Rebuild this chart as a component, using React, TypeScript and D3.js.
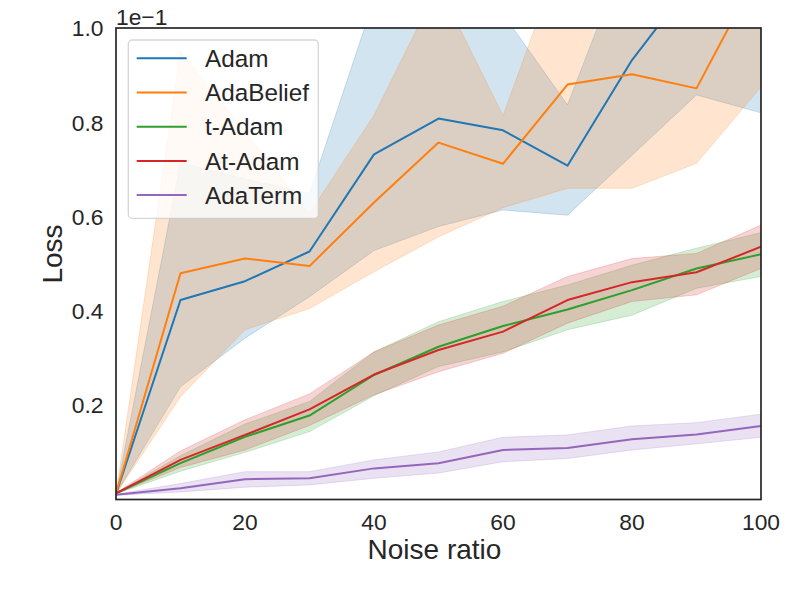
import React from "react";
import * as d3 from "d3";

// noise ratio (x) and loss values, in units of 1e-1
const noise = [0, 10, 20, 30, 40, 50, 60, 70, 80, 90, 100];

const adamMean = [0.012, 0.423, 0.463, 0.526, 0.732, 0.808, 0.783, 0.708, 0.932, 1.11, 1.2];
const adamLow = [0.012, 0.239, 0.342, 0.43, 0.528, 0.579, 0.614, 0.603, 0.73, 0.858, 0.82];
const adamHigh = [0.012, 0.714, 0.68, 0.649, 1.06, 1.2, 1.03, 0.837, 1.19, 1.4, 1.5];

const beliefMean = [0.012, 0.48, 0.511, 0.495, 0.63, 0.757, 0.712, 0.88, 0.902, 0.872, 1.13];
const beliefLow = [0.012, 0.218, 0.36, 0.405, 0.483, 0.557, 0.619, 0.66, 0.66, 0.713, 0.875];
const beliefHigh = [0.012, 0.95, 0.78, 0.607, 0.815, 1.09, 0.814, 1.19, 1.3, 1.3, 1.4];

const tAdamMean = [0.013, 0.077, 0.133, 0.178, 0.264, 0.324, 0.368, 0.403, 0.444, 0.49, 0.52];
const tAdamLow = [0.012, 0.06, 0.1, 0.144, 0.22, 0.282, 0.313, 0.36, 0.391, 0.448, 0.473];
const tAdamHigh = [0.014, 0.093, 0.16, 0.208, 0.313, 0.377, 0.42, 0.455, 0.497, 0.533, 0.566];

const atAdamMean = [0.013, 0.084, 0.137, 0.191, 0.265, 0.317, 0.356, 0.423, 0.461, 0.482, 0.536];
const atAdamLow = [0.012, 0.068, 0.105, 0.157, 0.222, 0.271, 0.31, 0.374, 0.42, 0.434, 0.49];
const atAdamHigh = [0.014, 0.103, 0.169, 0.224, 0.313, 0.37, 0.41, 0.473, 0.511, 0.522, 0.582];

const termMean = [0.01, 0.024, 0.043, 0.045, 0.066, 0.077, 0.105, 0.109, 0.128, 0.138, 0.156];
const termLow = [0.009, 0.016, 0.026, 0.031, 0.045, 0.056, 0.08, 0.087, 0.105, 0.118, 0.132];
const termHigh = [0.011, 0.034, 0.059, 0.059, 0.084, 0.101, 0.132, 0.137, 0.156, 0.163, 0.181];

const xTicks = [0, 20, 40, 60, 80, 100];
const yTicks = [0.2, 0.4, 0.6, 0.8, 1.0];

const series = [
  { name: "Adam", color: "#1f77b4", mean: adamMean, low: adamLow, high: adamHigh },
  { name: "AdaBelief", color: "#ff7f0e", mean: beliefMean, low: beliefLow, high: beliefHigh },
  { name: "t-Adam", color: "#2ca02c", mean: tAdamMean, low: tAdamLow, high: tAdamHigh },
  { name: "At-Adam", color: "#d62728", mean: atAdamMean, low: atAdamLow, high: atAdamHigh },
  { name: "AdaTerm", color: "#9467bd", mean: termMean, low: termLow, high: termHigh },
];

const W = 789;
const H = 592;
const box = { left: 116, right: 761, top: 28, bottom: 499.5 };
const ink = "#262626";
const font = "'Liberation Sans', Arial, sans-serif";

export default function App() {
  const x = d3.scaleLinear().domain([0, 100]).range([box.left, box.right]);
  const y = d3.scaleLinear().domain([0, 1]).range([box.bottom, box.top]);

  const line = (vals: number[]) =>
    d3.line<number>().x((_, i) => x(noise[i])).y(d => y(d))(vals) ?? "";
  const band = (lo: number[], hi: number[]) =>
    d3.area<number>().x((_, i) => x(noise[i])).y0((_, i) => y(lo[i])).y1((_, i) => y(hi[i]))(noise) ?? "";

  return (
    <div>
      <style>{`body{margin:0}`}</style>
      <svg width={W} height={H} style={{ display: "block", background: "#fff" }}>
        <defs>
          <clipPath id="plot">
            <rect x={box.left} y={box.top} width={box.right - box.left} height={box.bottom - box.top} />
          </clipPath>
        </defs>

        <g clipPath="url(#plot)">
          {series.map(s => (
            <path key={s.name + "-band"} d={band(s.low, s.high)} fill={s.color} fillOpacity={0.2} stroke={s.color} strokeOpacity={0.2} strokeWidth={1} />
          ))}
          {series.map(s => (
            <path key={s.name} d={line(s.mean)} fill="none" stroke={s.color} strokeWidth={2} strokeLinejoin="round" />
          ))}
        </g>

        <rect x={box.left} y={box.top} width={box.right - box.left} height={box.bottom - box.top} fill="none" stroke={ink} strokeWidth={1.7} />

        <g fontFamily={font} fill={ink}>
          {yTicks.map(t => (
            <text key={t} x={box.left - 12.5} y={y(t)} dy="0.36em" textAnchor="end" fontSize={22.8}>
              {t.toFixed(1)}
            </text>
          ))}
          {xTicks.map(t => (
            <text key={t} x={x(t)} y={529.5} textAnchor="middle" fontSize={22.8}>
              {t}
            </text>
          ))}
          <text x={box.left} y={25} fontSize={22.8}>1e−1</text>
          <text x={434.5} y={558.5} textAnchor="middle" fontSize={28}>Noise ratio</text>
          <text transform="translate(61.5,254) rotate(-90)" textAnchor="middle" fontSize={28}>Loss</text>
        </g>

        <g fontFamily={font}>
          <rect x={128.3} y={40} width={190} height={178.3} rx={4} fill="#fff" fillOpacity={0.8} stroke="#cccccc" strokeOpacity={0.8} strokeWidth={1.3} />
          {series.map((s, i) => {
            const cy = 58.3 + i * 34.2;
            return (
              <g key={s.name + "-legend"}>
                <line x1={136.7} x2={186.7} y1={cy} y2={cy} stroke={s.color} strokeWidth={2} />
                <text x={205} y={cy} dy="0.36em" fontSize={24.3} fill={ink}>{s.name}</text>
              </g>
            );
          })}
        </g>
      </svg>
    </div>
  );
}
